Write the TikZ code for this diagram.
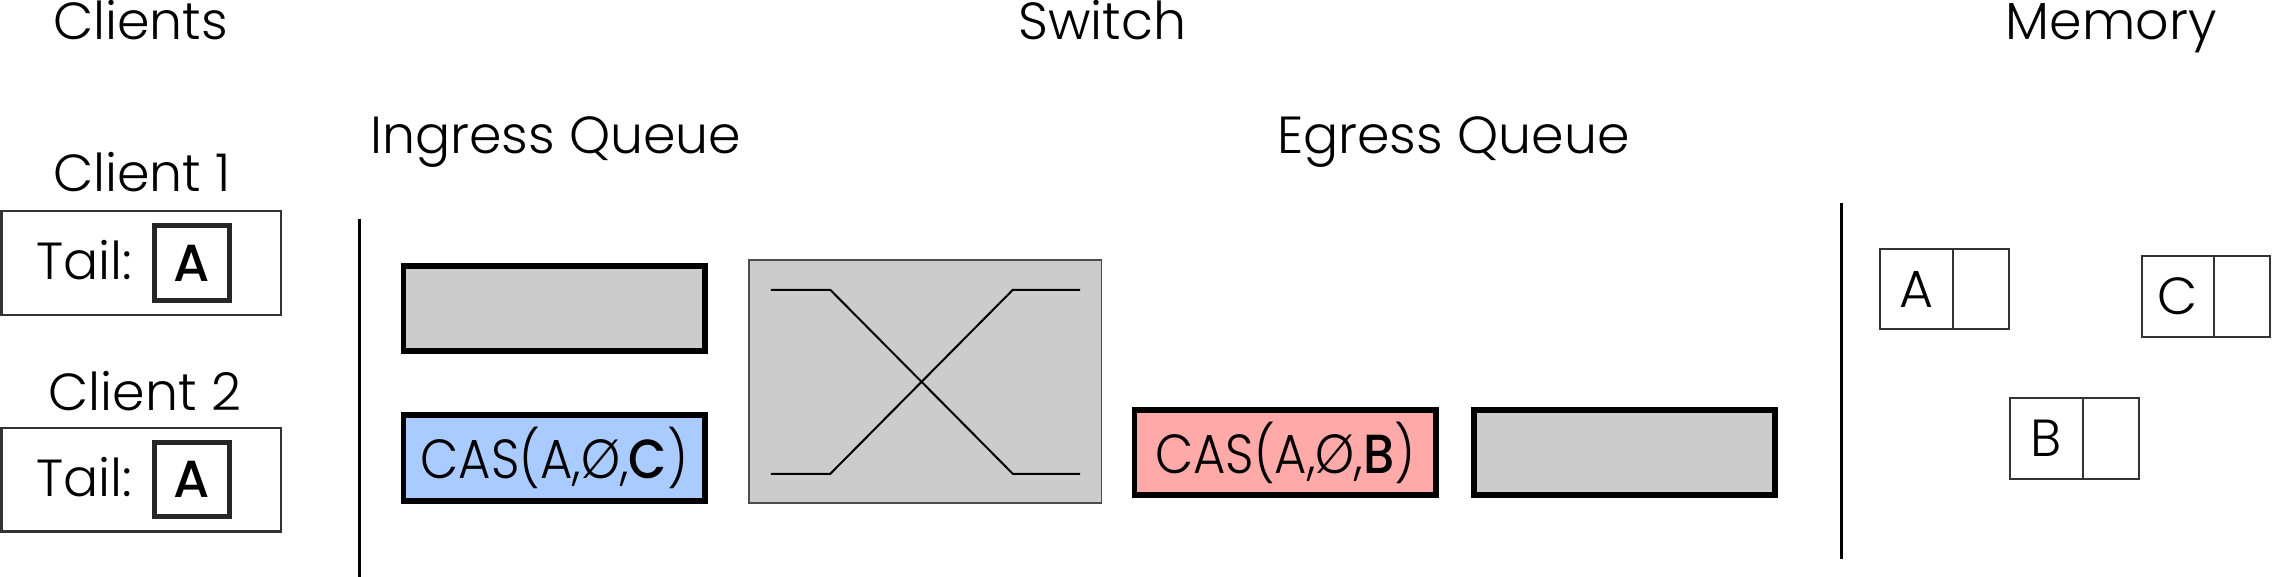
\documentclass[tikz,border=0pt]{standalone}
\usepackage{fontspec}
\setmainfont{Poppins Light}[BoldFont=Poppins Medium]
\definecolor{qgray}{HTML}{CCCCCC}
\definecolor{qblue}{HTML}{A9CBFF}
\definecolor{qpink}{HTML}{FFA9A9}
\definecolor{edgegray}{HTML}{333333}
\begin{document}
\begin{tikzpicture}[x=0.5pt,y=-0.5pt,
  font=\fontsize{18}{22}\selectfont,
  every node/.style={inner sep=0pt, outer sep=0pt},
  heading/.style={anchor=base},
  clientbox/.style={draw=edgegray, line width=0.8pt, minimum width=96.5pt, minimum height=35.7pt},
  tailbox/.style={draw=black!85, line width=1.75pt, minimum width=25.75pt, minimum height=25.75pt},
  queuebox/.style={draw=black, line width=2pt, minimum width=104pt, minimum height=29.5pt, font=\fontsize{19}{22}\selectfont},
  memleft/.style={draw=edgegray, line width=0.7pt, minimum width=25pt, minimum height=27.8pt},
  memright/.style={draw=edgegray, line width=0.7pt, minimum width=19.4pt, minimum height=27.8pt, anchor=west},
  divider/.style={line width=1pt},
  wire/.style={line width=0.7pt}
]
\useasboundingbox (0,0) rectangle (1568,398);

% headings
\node[heading] (hclients) at (97,27) {Clients};
\node[heading] (hswitch) at (760.6,27) {Switch};
\node[heading] (hmemory) at (1457,27) {Memory};
\node[heading] (hingress) at (383.5,106) {Ingress Queue};
\node[heading] (hegress) at (1003,106) {Egress Queue};

% clients
\node[heading] (c1label) at (98,132) {Client 1};
\node[clientbox] (c1) at (97.5,181.5) {};
\node[anchor=base west] (c1tail) at (25,193) {Tail:};
\node[tailbox] (c1a) at (132.5,181.5) {\textbf{A}};

\node[heading] (c2label) at (100,283) {Client 2};
\node[clientbox] (c2) at (97.5,331) {};
\node[anchor=base west] (c2tail) at (25,342.5) {Tail:};
\node[tailbox] (c2a) at (132.5,331) {\textbf{A}};

% separators
\coordinate (v1t) at (248,151);
\coordinate (v1b) at (248,398);
\draw[divider] (v1t) -- (v1b);
\coordinate (v2t) at (1271,140);
\coordinate (v2b) at (1271,386);
\draw[divider] (v2t) -- (v2b);

% ingress queue
\node[queuebox, fill=qgray] (in1) at (382.5,213) {};
\node[queuebox, fill=qblue] (in2) at (382.5,316) {\scalebox{0.9}[1]{CAS(A,Ø,\textbf{C})}};

% switch
\node[draw=black!70, line width=0.5pt, fill=qgray, minimum width=121.5pt, minimum height=83.8pt] (sw) at (638.5,263.2) {};
\draw[wire] (532,200) -- (573,200) -- (699,327) -- (745.5,327);
\draw[wire] (532,327) -- (573,327) -- (699,200) -- (745.5,200);

% egress queue
\node[queuebox, fill=qpink] (eg1) at (887,312.3) {\scalebox{0.9}[1]{CAS(A,Ø,\textbf{B})}};
\node[queuebox, fill=qgray] (eg2) at (1121,312.3) {};

% memory
\node[memleft] (memA) at (1322.6,199.5) {A};
\node[memright] (memAn) at (memA.east) {};
\node[memleft] (memB) at (1412.4,302.5) {B};
\node[memright] (memBn) at (memB.east) {};
\node[memleft] (memC) at (1503.1,204.5) {C};
\node[memright] (memCn) at (memC.east) {};
\end{tikzpicture}
\end{document}
